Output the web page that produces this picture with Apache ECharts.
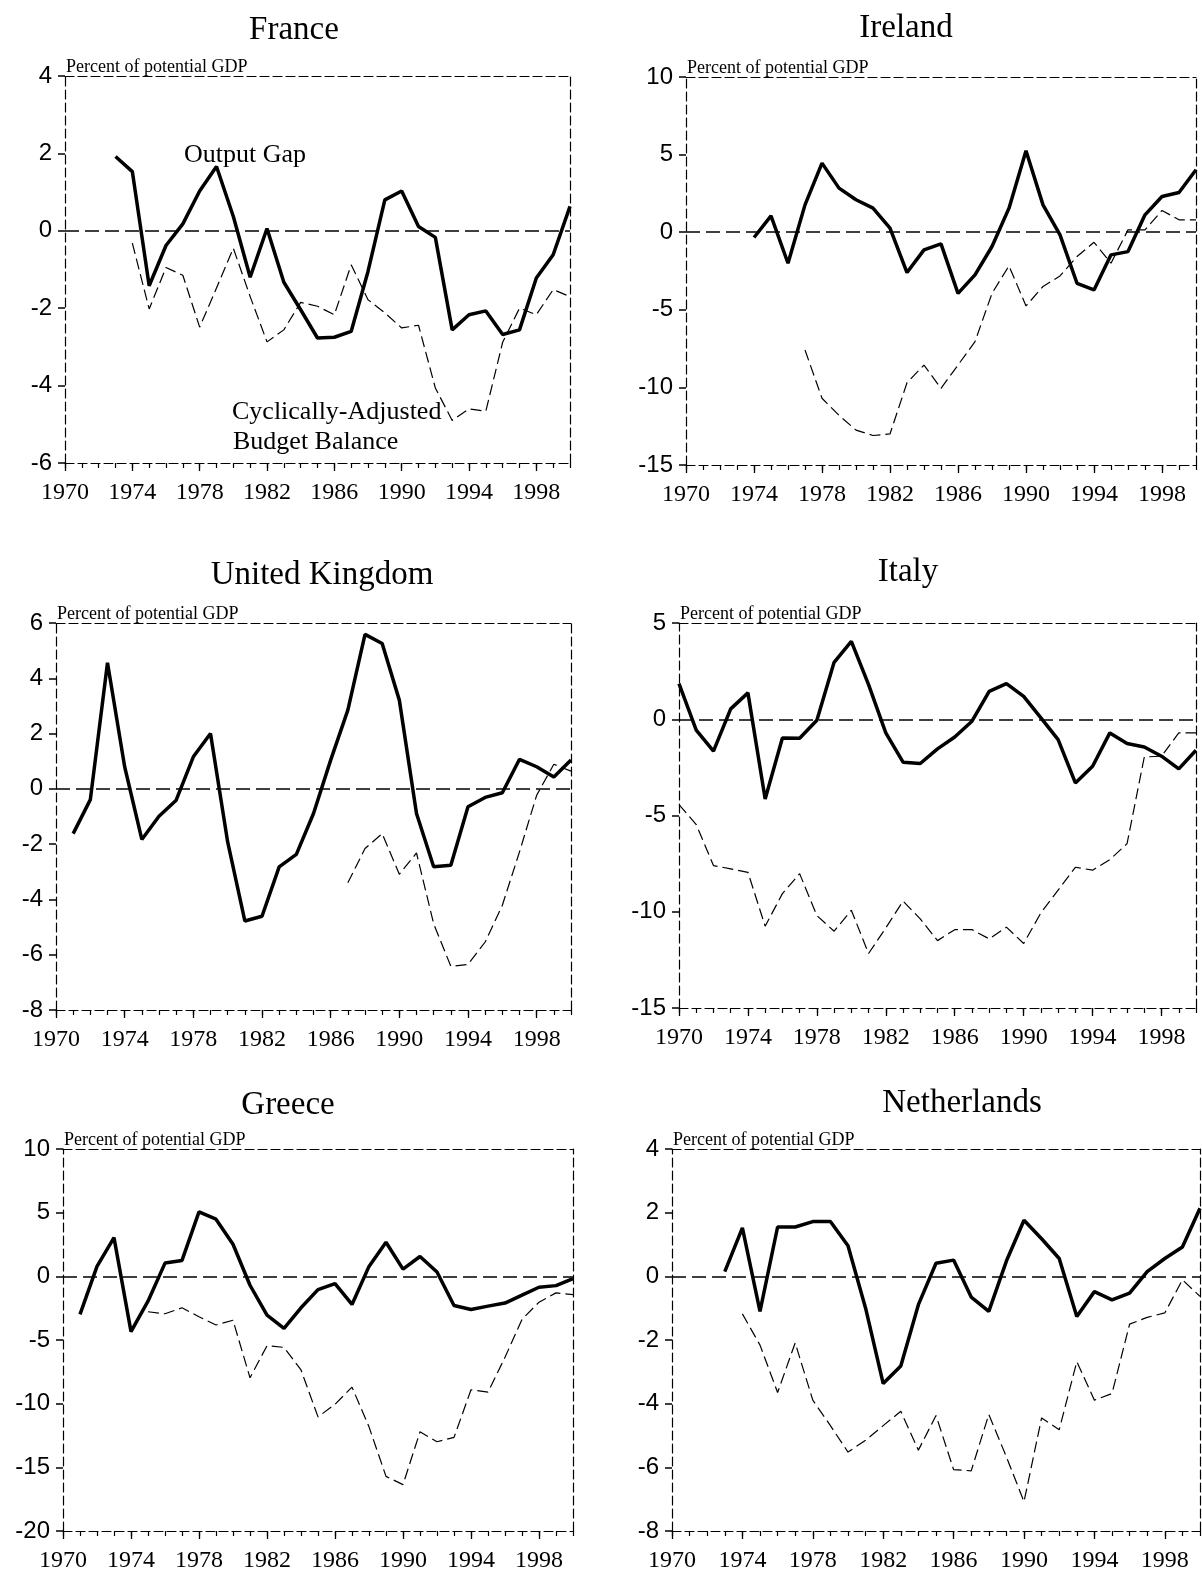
<!DOCTYPE html>
<html>
<head>
<meta charset="utf-8">
<title>Output gap and cyclically-adjusted budget balance</title>
<script src="https://cdn.jsdelivr.net/npm/echarts@6/dist/echarts.min.js"></script>
<style>
  html, body { margin: 0; padding: 0; background: #fff; }
  #chart { width: 1202px; height: 1573px; }
</style>
</head>
<body>
<div id="chart"></div>
<script>
// years on the x axis
var years = [1970, 1971, 1972, 1973, 1974, 1975, 1976, 1977, 1978, 1979,
  1980, 1981, 1982, 1983, 1984, 1985, 1986, 1987, 1988, 1989,
  1990, 1991, 1992, 1993, 1994, 1995, 1996, 1997, 1998, 1999, 2000];

// output gap / cyclically-adjusted budget balance, percent of potential GDP
var franceGap = [null, null, null, 1.92, 1.53, -1.42, -0.38, 0.18, 1.03, 1.66,
  0.37, -1.2, 0.06, -1.33, -2.04, -2.77, -2.75, -2.6, -1.05, 0.8,
  1.03, 0.11, -0.17, -2.56, -2.17, -2.07, -2.68, -2.56, -1.22, -0.62, 0.63];
var franceCab = [null, null, null, null, -0.32, -2.02, -0.95, -1.15, -2.49, -1.48,
  -0.45, -1.7, -2.87, -2.56, -1.85, -1.95, -2.17, -0.88, -1.78, -2.12,
  -2.51, -2.44, -4.06, -4.9, -4.6, -4.66, -2.88, -2.0, -2.17, -1.52, -1.7];

var irelandGap = [null, null, null, null, -0.34, 1.05, -2.0, 1.76, 4.45, 2.84,
  2.09, 1.55, 0.26, -2.6, -1.14, -0.75, -3.94, -2.75, -0.92, 1.55,
  5.25, 1.76, -0.17, -3.29, -3.72, -1.46, -1.25, 1.12, 2.3, 2.56, 4.02];
var irelandCab = [null, null, null, null, null, null, null, -7.59, -10.7, -11.8,
  -12.75, -13.1, -13.0, -9.7, -8.56, -10.06, -8.56, -7.05, -3.94, -2.17,
  -4.75, -3.5, -2.82, -1.57, -0.65, -2.0, 0.15, 0.15, 1.4, 0.8, 0.8];

var ukGap = [null, -1.62, -0.39, 4.56, 0.8, -1.83, -0.99, -0.41, 1.16, 2.0,
  -1.92, -4.78, -4.61, -2.82, -2.37, -0.89, 1.04, 2.85, 5.59, 5.26,
  3.21, -0.89, -2.82, -2.76, -0.65, -0.31, -0.14, 1.07, 0.8, 0.43, 1.04];
var ukCab = [null, null, null, null, null, null, null, null, null, null,
  null, null, null, null, null, null, null, -3.4, -2.16, -1.62,
  -3.09, -2.32, -4.88, -6.42, -6.35, -5.54, -4.21, -2.28, -0.23, 0.89, 0.64];

var italyGap = [1.85, -0.57, -1.66, 0.54, 1.37, -4.14, -0.97, -0.99, -0.05, 2.96,
  4.05, 1.8, -0.71, -2.23, -2.3, -1.54, -0.92, -0.1, 1.45, 1.85,
  1.19, 0.07, -1.06, -3.31, -2.44, -0.71, -1.26, -1.44, -1.92, -2.58, -1.61];
var italyCab = [-4.43, -5.47, -7.6, -7.77, -7.95, -10.75, -9.06, -8.02, -10.2, -11.01,
  -9.92, -12.17, -10.84, -9.45, -10.37, -11.5, -10.93, -10.93, -11.41, -10.8,
  -11.65, -10.06, -8.88, -7.69, -7.84, -7.29, -6.46, -1.96, -1.92, -0.71, -0.71];

var greeceGap = [null, -2.99, 0.78, 3.04, -4.34, -1.95, 1.04, 1.25, 5.06, 4.49,
  2.52, -0.7, -3.04, -4.08, -2.47, -1.04, -0.57, -2.21, 0.78, 2.68,
  0.57, 1.56, 0.34, -2.29, -2.6, -2.34, -2.1, -1.48, -0.86, -0.73, -0.18];
var greeceCab = [null, null, null, null, null, -2.78, -2.94, -2.47, -3.17, -3.82,
  -3.45, -7.97, -5.45, -5.58, -7.35, -11.04, -10.05, -8.7, -11.82, -15.71,
  -16.36, -12.21, -12.99, -12.65, -8.91, -9.09, -6.36, -3.38, -2.03, -1.3, -1.43];

var netherlandsGap = [null, null, null, 0.15, 1.52, -1.1, 1.55, 1.55, 1.72, 1.72,
  0.96, -1.0, -3.37, -2.82, -0.89, 0.41, 0.51, -0.65, -1.1, 0.48,
  1.76, 1.18, 0.56, -1.26, -0.48, -0.74, -0.53, 0.15, 0.56, 0.92, 2.14];
var netherlandsCab = [null, null, null, null, -1.18, -2.16, -3.65, -2.09, -3.89, -4.69,
  -5.52, -5.15, -4.69, -4.24, -5.46, -4.37, -6.07, -6.11, -4.34, -5.67,
  -7.08, -4.45, -4.82, -2.68, -3.89, -3.68, -1.5, -1.29, -1.15, -0.11, -0.63];

// y axis [min, max, step] for each country
var franceY = [-6, 4, 2];
var irelandY = [-15, 10, 5];
var ukY = [-8, 6, 2];
var italyY = [-15, 5, 5];
var greeceY = [-20, 10, 5];
var netherlandsY = [-8, 4, 2];

var unitLabel = 'Percent of potential GDP';

var SERIF = "'Liberation Serif', 'Times New Roman', serif";
var SANS = "'Liberation Sans', Arial, sans-serif";

var panels = [
  {name: 'France', gap: franceGap, cab: franceCab, y: franceY,
    grid: {left: 65, top: 76, width: 505, height: 387}, tx: 294, ty: 30},
  {name: 'Ireland', gap: irelandGap, cab: irelandCab, y: irelandY,
    grid: {left: 686, top: 77, width: 510, height: 388}, tx: 906, ty: 28},
  {name: 'United Kingdom', gap: ukGap, cab: ukCab, y: ukY,
    grid: {left: 56, top: 623, width: 515, height: 387}, tx: 322, ty: 575},
  {name: 'Italy', gap: italyGap, cab: italyCab, y: italyY,
    grid: {left: 679, top: 623, width: 517, height: 385}, tx: 908, ty: 572},
  {name: 'Greece', gap: greeceGap, cab: greeceCab, y: greeceY,
    grid: {left: 63, top: 1149, width: 510, height: 386}, tx: 288, ty: 1105},
  {name: 'Netherlands', gap: netherlandsGap, cab: netherlandsCab, y: netherlandsY,
    grid: {left: 672, top: 1149, width: 528, height: 385}, tx: 962, ty: 1103}
];

function pairs (arr) {
  var out = [];
  for (var i = 0; i < years.length; i++) {
    if (arr[i] !== null) out.push([years[i], arr[i]]);
  }
  return out;
}

var frameLine = {show: true, onZero: false, lineStyle: {color: '#000', width: 1.2, type: [9, 4]}};

var grids = [], xAxes = [], yAxes = [], series = [], graphics = [];

panels.forEach(function (p, k) {
  grids.push(p.grid);
  var xi = k * 3, yi = k * 2;

  // bottom axis with labels
  xAxes.push({
    type: 'value', gridIndex: k, position: 'bottom', min: 1970, max: 2000, interval: 4,
    axisLine: frameLine,
    axisTick: {show: true, length: 8, lineStyle: {color: '#000', width: 1.3}},
    axisLabel: {show: true, margin: 18, showMaxLabel: false, color: '#000',
      fontFamily: SERIF, fontSize: 24, formatter: function (v) { return String(v) }},
    splitLine: {show: false}
  });
  // yearly small ticks
  xAxes.push({
    type: 'value', gridIndex: k, position: 'bottom', min: 1970, max: 2000, interval: 1,
    axisLine: {show: false, onZero: false},
    axisTick: {show: true, length: 5, lineStyle: {color: '#000', width: 1.2}},
    axisLabel: {show: false}, splitLine: {show: false}
  });
  // top frame
  xAxes.push({
    type: 'value', gridIndex: k, position: 'top', min: 1970, max: 2000,
    axisLine: frameLine, axisTick: {show: false}, axisLabel: {show: false}, splitLine: {show: false}
  });

  yAxes.push({
    type: 'value', gridIndex: k, position: 'left', min: p.y[0], max: p.y[1], interval: p.y[2],
    axisLine: frameLine,
    axisTick: {show: true, length: 7, lineStyle: {color: '#000', width: 1.5}},
    axisLabel: {show: true, margin: 13, color: '#000', fontFamily: SANS, fontSize: 24},
    splitLine: {show: false}
  });
  yAxes.push({
    type: 'value', gridIndex: k, position: 'right', min: p.y[0], max: p.y[1],
    axisLine: frameLine, axisTick: {show: false}, axisLabel: {show: false}, splitLine: {show: false}
  });

  series.push({
    name: p.name + ' output gap', type: 'line', xAxisIndex: xi, yAxisIndex: yi,
    data: pairs(p.gap), showSymbol: false, symbol: 'none', z: 4,
    lineStyle: {color: '#000', width: 3.5},
    markLine: {
      silent: true, symbol: ['none', 'none'], label: {show: false},
      lineStyle: {color: '#000', width: 1.5, type: [14, 6]},
      data: [{yAxis: 0}]
    }
  });
  series.push({
    name: p.name + ' cyclically-adjusted budget balance', type: 'line', xAxisIndex: xi, yAxisIndex: yi,
    data: pairs(p.cab), showSymbol: false, symbol: 'none', z: 3,
    lineStyle: {color: '#000', width: 1.2, type: [11, 5]}
  });

  graphics.push({
    type: 'text', x: p.tx, y: p.ty,
    style: {text: p.name, font: '33px ' + SERIF, fill: '#000', textAlign: 'center', textVerticalAlign: 'middle'}
  });
  graphics.push({
    type: 'text', x: p.grid.left + 1, y: p.grid.top - 9,
    style: {text: unitLabel, font: '18px ' + SERIF, fill: '#000', textAlign: 'left', textVerticalAlign: 'middle'}
  });
});

// series labels inside the France panel
graphics.push({type: 'text', x: 184, y: 155,
  style: {text: 'Output Gap', font: '26px ' + SERIF, fill: '#000', textAlign: 'left', textVerticalAlign: 'middle'}});
graphics.push({type: 'text', x: 232, y: 412,
  style: {text: 'Cyclically-Adjusted', font: '26px ' + SERIF, fill: '#000', textAlign: 'left', textVerticalAlign: 'middle'}});
graphics.push({type: 'text', x: 233, y: 442,
  style: {text: 'Budget Balance', font: '26px ' + SERIF, fill: '#000', textAlign: 'left', textVerticalAlign: 'middle'}});

var chart = echarts.init(document.getElementById('chart'));
chart.setOption({
  backgroundColor: '#fff',
  animation: false,
  grid: grids,
  xAxis: xAxes,
  yAxis: yAxes,
  series: series,
  graphic: graphics
});
</script>
</body>
</html>
